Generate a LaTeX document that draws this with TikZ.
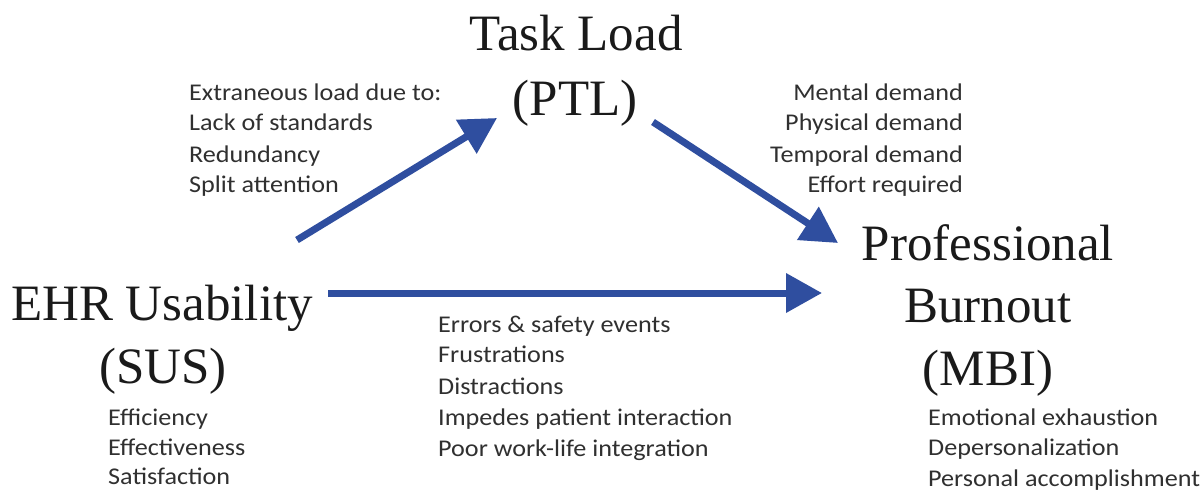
\documentclass[tikz,border=0pt]{standalone}
\usepackage{fontspec}
\setmainfont{Liberation Serif}
\newfontfamily\labfont[FakeStretch=1.09]{Carlito}
\usetikzlibrary{arrows.meta}
\definecolor{arrblue}{HTML}{2F4E9F}
\definecolor{headtxt}{HTML}{1A1A1A}
\definecolor{labtxt}{HTML}{303030}
\tikzset{
  head/.style={font=\fontsize{51}{60}\selectfont, text=headtxt, anchor=base, inner sep=0pt},
  lab/.style={font=\labfont\fontsize{24}{28}\selectfont, text=labtxt, inner sep=0pt},
  labl/.style={lab, anchor=base west},
  labr/.style={lab, anchor=base east},
  bigarrow/.style={draw=arrblue, line width=7pt, -{Triangle[length=36pt,width=38pt]}}
}
\begin{document}
\begin{tikzpicture}[x=1pt,y=-1pt]
\useasboundingbox[fill=white] (0,0) rectangle (1203,491);

% headings
\node[head] (tl1) at (576,50) {Task Load};
\node[head] (tl2) at (575,115) {(PTL)};
\node[head] (ehr1) at (162,320) {EHR Usability};
\node[head] (ehr2) at (163,383) {(SUS)};
\node[head] (pb1) at (988,260) {Professional};
\node[head] (pb2) at (988,322) {Burnout};
\node[head] (pb3) at (988,385) {(MBI)};

% label lists
\node[labl] (ex1) at (189,100) {Extraneous load due to:};
\node[labl] (ex2) at (189,130) {Lack of standards};
\node[labl] (ex3) at (189,162) {Redundancy};
\node[labl] (ex4) at (189,192) {Split attention};

\node[labr] (md1) at (963,100) {Mental demand};
\node[labr] (md2) at (963,130) {Physical demand};
\node[labr] (md3) at (963,162) {Temporal demand};
\node[labr] (md4) at (963,192) {Effort required};

\node[labl] (us1) at (108,425) {Efficiency};
\node[labl] (us2) at (108,455) {Effectiveness};
\node[labl] (us3) at (108,484) {Satisfaction};

\node[labl] (er1) at (438,332) {Errors \& safety events};
\node[labl] (er2) at (438,362) {Frustrations};
\node[labl] (er3) at (438,394) {Distractions};
\node[labl] (er4) at (438,425) {Impedes patient interaction};
\node[labl] (er5) at (438,456) {Poor work-life integration};

\node[labl] (mb1) at (928,425) {Emotional exhaustion};
\node[labl] (mb2) at (928,455) {Depersonalization};
\node[labl] (mb3) at (928,486) {Personal accomplishment};

% arrow end points
\coordinate (a1s) at (297,240);
\coordinate (a1e) at (497,118);
\coordinate (a2s) at (653,122);
\coordinate (a2e) at (838,243);
\coordinate (a3s) at (328,293);
\coordinate (a3e) at (822,293);

\draw[bigarrow] (a1s) -- (a1e);
\draw[bigarrow] (a2s) -- (a2e);
\draw[bigarrow] (a3s) -- (a3e);
\end{tikzpicture}
\end{document}
